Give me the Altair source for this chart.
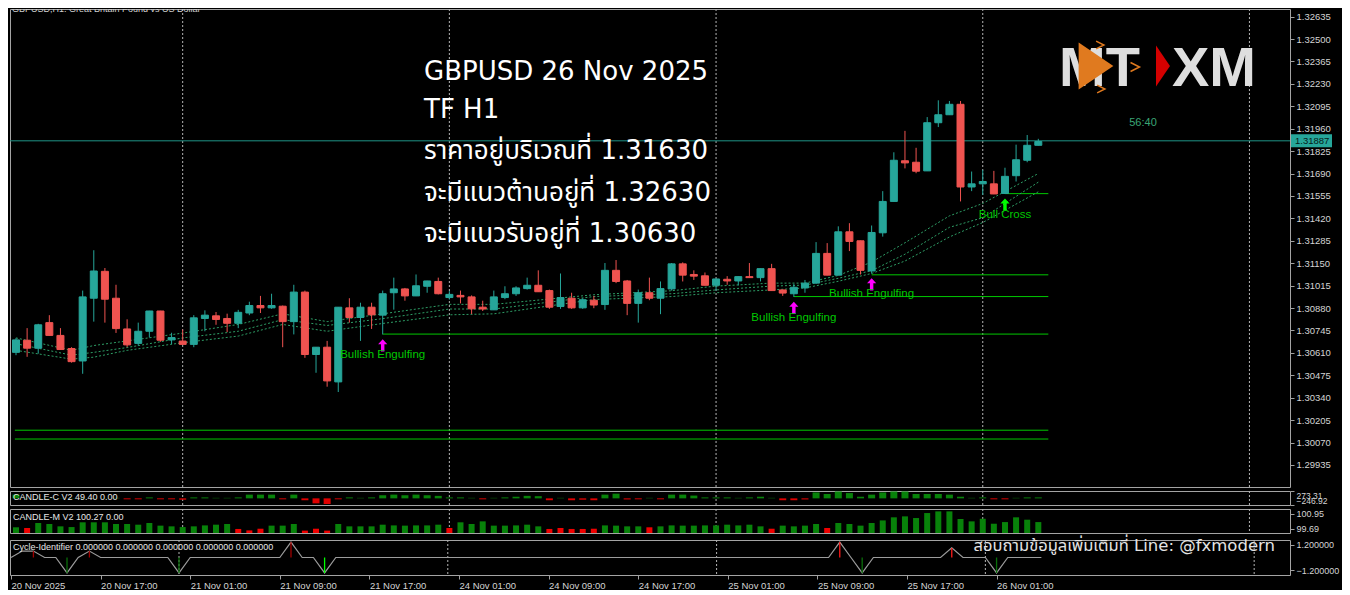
import json
import altair as alt
import pandas as pd

# ---------------- data ----------------
opens = [
    1.30613, 1.30686, 1.30638, 1.30792, 1.30715, 1.30636, 1.30561, 1.30939, 1.31101, 1.30939,
    1.30754, 1.30667, 1.30740, 1.30862, 1.30688, 1.30681, 1.30661, 1.30817, 1.30833, 1.30817,
    1.30788, 1.30850, 1.30895, 1.30881, 1.30891, 1.30798, 1.30976, 1.30600, 1.30644, 1.30435,
    1.30881, 1.30823, 1.30885, 1.30837, 1.30972, 1.30995, 1.30953, 1.31011, 1.31040, 1.30943,
    1.30956, 1.30947, 1.30885, 1.30869, 1.30943, 1.30966, 1.30997, 1.31017, 1.30985, 1.30889,
    1.30939, 1.30881, 1.30927, 1.30901, 1.31107, 1.31043, 1.30908, 1.30972, 1.30939, 1.30995,
    1.31146, 1.31082, 1.31074, 1.31017, 1.31053, 1.31043, 1.31069, 1.31063, 1.31117, 1.30989,
    1.30966, 1.31001, 1.31030, 1.31209, 1.31078, 1.31339, 1.31285, 1.31103, 1.31333, 1.31522,
    1.31767, 1.31758, 1.31706, 1.31996, 1.32044, 1.32107, 1.31609, 1.31628, 1.31628, 1.31570,
    1.31677, 1.31770, 1.31860]
highs = [
    1.30700, 1.30759, 1.30785, 1.30837, 1.30759, 1.30644, 1.30985, 1.31228, 1.31121, 1.31020,
    1.30812, 1.30792, 1.30863, 1.30863, 1.30731, 1.30750, 1.30837, 1.30866, 1.30856, 1.30846,
    1.30869, 1.30918, 1.30953, 1.30966, 1.30895, 1.31020, 1.30985, 1.30645, 1.30682, 1.30886,
    1.30939, 1.30912, 1.30912, 1.30985, 1.31063, 1.31001, 1.31082, 1.31044, 1.31063, 1.30982,
    1.30985, 1.30956, 1.30924, 1.30985, 1.31011, 1.31011, 1.31063, 1.31107, 1.30991, 1.31088,
    1.30972, 1.30939, 1.30953, 1.31151, 1.31169, 1.31049, 1.30991, 1.31063, 1.31040, 1.31151,
    1.31155, 1.31107, 1.31094, 1.31056, 1.31072, 1.31070, 1.31151, 1.31118, 1.31146, 1.30990,
    1.31024, 1.31049, 1.31277, 1.31271, 1.31372, 1.31391, 1.31286, 1.31377, 1.31584, 1.31818,
    1.31947, 1.31845, 1.32030, 1.32131, 1.32127, 1.32127, 1.31702, 1.31712, 1.31706, 1.31725,
    1.31864, 1.31922, 1.31899]
lows = [
    1.30596, 1.30586, 1.30605, 1.30712, 1.30628, 1.30551, 1.30484, 1.30798, 1.30792, 1.30730,
    1.30644, 1.30654, 1.30702, 1.30677, 1.30663, 1.30660, 1.30644, 1.30740, 1.30779, 1.30735,
    1.30759, 1.30837, 1.30850, 1.30875, 1.30644, 1.30721, 1.30580, 1.30490, 1.30406, 1.30374,
    1.30792, 1.30682, 1.30754, 1.30721, 1.30870, 1.30924, 1.30952, 1.30972, 1.30962, 1.30931,
    1.30908, 1.30843, 1.30862, 1.30868, 1.30933, 1.30953, 1.30991, 1.30977, 1.30875, 1.30875,
    1.30875, 1.30875, 1.30879, 1.30869, 1.31030, 1.30837, 1.30792, 1.30927, 1.30843, 1.30985,
    1.31040, 1.31049, 1.31016, 1.30985, 1.31020, 1.31016, 1.31062, 1.31040, 1.30984, 1.30953,
    1.30947, 1.30972, 1.31026, 1.31077, 1.31077, 1.31223, 1.31082, 1.31088, 1.31310, 1.31521,
    1.31721, 1.31692, 1.31705, 1.31970, 1.32043, 1.31522, 1.31584, 1.31561, 1.31566, 1.31569,
    1.31642, 1.31758, 1.31859]
closes = [
    1.30688, 1.30638, 1.30779, 1.30715, 1.30630, 1.30557, 1.30947, 1.31103, 1.30933, 1.30756,
    1.30658, 1.30740, 1.30862, 1.30686, 1.30702, 1.30661, 1.30821, 1.30837, 1.30811, 1.30788,
    1.30854, 1.30895, 1.30881, 1.30895, 1.30798, 1.30976, 1.30600, 1.30644, 1.30441, 1.30885,
    1.30823, 1.30885, 1.30839, 1.30966, 1.30995, 1.30953, 1.31014, 1.31043, 1.30966, 1.30962,
    1.30947, 1.30875, 1.30874, 1.30947, 1.30966, 1.31001, 1.31017, 1.30978, 1.30885, 1.30943,
    1.30881, 1.30930, 1.30898, 1.31107, 1.31040, 1.30908, 1.30972, 1.30939, 1.30997, 1.31146,
    1.31078, 1.31072, 1.31017, 1.31055, 1.31043, 1.31069, 1.31063, 1.31117, 1.30985, 1.30970,
    1.31005, 1.31030, 1.31209, 1.31078, 1.31339, 1.31281, 1.31107, 1.31335, 1.31522, 1.31770,
    1.31754, 1.31704, 1.31996, 1.32044, 1.32107, 1.31609, 1.31628, 1.31642, 1.31567, 1.31673,
    1.31773, 1.31860, 1.31883]

# three dotted moving-average bands, read at sample bars
ma_bars = [0, 5, 7, 10, 15, 20, 24, 28, 33, 39, 43, 52, 59, 63, 68, 71, 74, 77, 80, 84, 87, 92]
ma_fast = [1.30700, 1.30625, 1.30654, 1.30682, 1.30729, 1.30781, 1.30845, 1.30798, 1.30845, 1.30902, 1.30902,
           1.30960, 1.30984, 1.31012, 1.31030, 1.31030, 1.31076, 1.31157, 1.31273, 1.31435, 1.31510, 1.31690]
ma_mid = [1.30665, 1.30596, 1.30613, 1.30642, 1.30700, 1.30740, 1.30810, 1.30775, 1.30816, 1.30874, 1.30874,
          1.30949, 1.30966, 1.30989, 1.31012, 1.31018, 1.31059, 1.31105, 1.31204, 1.31366, 1.31424, 1.31638]
ma_slow = [1.30625, 1.30572, 1.30584, 1.30625, 1.30671, 1.30711, 1.30781, 1.30740, 1.30787, 1.30839, 1.30845,
           1.30931, 1.30949, 1.30972, 1.30989, 1.31001, 1.31041, 1.31088, 1.31163, 1.31308, 1.31395, 1.31580]

current_price = 1.31887
level_start = [33, 70, 77, 89, -0.1, -0.1]
level_end = [92.9, 92.9, 92.9, 92.9, 92.9, 92.9]
level_price = [1.30723, 1.30949, 1.31080, 1.31569, 1.30144, 1.30091]

pattern_bars = [33, 70, 77, 89]
pattern_names = ["Bullish Engulfing", "Bullish Engulfing", "Bullish Engulfing", "Bull Cross"]
pattern_kind = ["engulf", "engulf", "engulf", "cross"]

day_sep_bars = [15, 39, 63, 87, 111]
tick_bars = [0, 8, 16, 24, 32, 40, 48, 56, 64, 72, 80, 88]
tick_labels = ["20 Nov 2025", "20 Nov 17:00", "21 Nov 01:00", "21 Nov 09:00", "21 Nov 17:00",
               "24 Nov 01:00", "24 Nov 09:00", "24 Nov 17:00", "25 Nov 01:00", "25 Nov 09:00",
               "25 Nov 17:00", "26 Nov 01:00"]
price_ticks = [1.29935, 1.30070, 1.30205, 1.30340, 1.30475, 1.30610, 1.30745, 1.30880, 1.31015,
               1.31150, 1.31285, 1.31420, 1.31555, 1.31690, 1.31825, 1.31960, 1.32095, 1.32230,
               1.32365, 1.32500, 1.32635]

candle_c = [139, 10, 10, 10, 10, 10, 10, 10, 10, 20,
            -35, -35, 35, -35, -35, -50, 35, 35, 20, 20,
            35, 139, 139, 139, -35, 139, -70, -185, -210, -35,
            35, 20, 35, 116, 139, 116, 139, 116, 93, 35,
            35, 20, -35, 20, 35, 60, 93, 81, -70, 20,
            -70, -50, -70, 139, 174, -40, -35, 20, -35, 139,
            139, 104, 35, 35, 35, 20, 35, 60, 20, -70,
            -70, -40, 220, 162, 255, 197, 60, 139, 220, 255,
            255, 162, 162, 162, 139, 60, 20, 35, -35, -35,
            20, 35, 35]
candle_m = [99.83, 99.77, 100.19, 100.11, 99.91, 99.85, 100.25, 100.25, 100.25, 100.11,
            100.11, 100.05, 100.19, 99.97, 99.91, 99.85, 99.91, 99.99, 100.05, 100.11,
            99.69, 99.57, 99.71, 99.97, 99.97, 100.11, 99.55, 99.71, 99.55, 100.11,
            99.91, 99.91, 99.91, 100.05, 99.99, 99.97, 99.99, 99.99, 100.05, 99.77,
            100.25, 100.11, 100.33, 99.97, 99.97, 99.99, 100.05, 99.91, 99.69, 99.77,
            99.69, 99.69, 99.71, 99.99, 99.97, 99.91, 99.91, 99.83, 99.91, 99.99,
            99.97, 99.97, 99.99, 99.99, 100.05, 99.99, 100.05, 99.91, 99.71, 99.97,
            99.91, 99.97, 100.11, 99.77, 100.19, 100.11, 99.97, 100.19, 100.41, 100.67,
            100.75, 100.61, 101.03, 101.17, 101.17, 100.53, 100.33, 100.55, 100.13, 100.27,
            100.67, 100.47, 100.27]
candle_m_red_bars = [1, 20, 21, 22, 26, 27, 28, 39, 48, 49, 50, 51, 52, 57, 68, 73]

cycle_line = [0, 0.6, 0.6, 0, 0, -1.45, 0, 0.6, 0, 0,
              0, 0, 0, 0, 0, -1.45, 0, 0, 0, 0,
              0, 0, 0, 0, 0, 1.45, 0, 0, -1.45, 0,
              0, 0, 0, 0, 0, 0, 0, 0, 0, 0,
              0, 0, 0, 0, 0, 0, 0, 0, 0, 0,
              0, 0, 0, 0, 0, 0, 0, 0, 0, 0,
              0, 0, 0, 0, 0, 0, 0, 0, 0, 0,
              0, 0, 0, 0, 1.45, 0, -1.45, 0, 0, 0,
              0, 0, 0, 0, 0.9, 0, 0, 0, -1.45, 0,
              0, 0, 0]
sig_bars = [2, 5, 7, 15, 25, 28, 74, 76, 84, 88]
sig_vals = [0.6, -1.45, 0.6, -1.45, 1.45, -1.45, 1.45, -1.45, 0.9, -1.45]
sig_kind = ["peak", "dip", "peak", "dip", "peak", "dip_strong", "peak_strong", "dip", "peak_strong", "dip"]

info_lines = ["GBPUSD 26 Nov 2025", "TF H1", "ราคาอยู่บริเวณที่ 1.31630",
              "จะมีแนวต้านอยู่ที่ 1.32630", "จะมีแนวรับอยู่ที่ 1.30630"]
watermark = "สอบถามข้อมูลเพิ่มเติมที่ Line: @fxmodern"
chart_title = "GBPUSD,H1:  Great Britain Pound vs US Dollar"

# ---------------- layout / style ----------------
W = 1280
H_MAIN, H_C, H_M, H_CYC = 478, 14, 24, 35
FONT = "Liberation Sans, Arial, sans-serif"
BIG_FONT = "DejaVu Sans, Noto Sans Thai, Noto Sans, sans-serif"
AX = dict(orient="right", title=None, grid=False, domain=False, labelColor="#d4d4d4",
          labelFont=FONT, labelFontSize=9.5, tickColor="#a0a0a0", tickSize=4, labelPadding=2)

xs = alt.Scale(domain=[-0.09, 114.2], nice=False, zero=False)
ys = alt.Scale(domain=[1.29802, 1.32681], nice=False, zero=False)
price_axis = alt.Axis(values=price_ticks, format=".5f", labelOverlap=False, **AX)
cscale = alt.Scale(domain=["up", "down"], range=["#26a69a", "#ef5350"])

candles = pd.DataFrame({"bar": list(range(len(opens))), "open": opens, "high": highs,
                        "low": lows, "close": closes})
candles["dir"] = ["up" if c >= o else "down" for o, c in zip(opens, closes)]

ma = pd.concat([pd.DataFrame({"bar": ma_bars, "v": s, "s": n})
                for s, n in [(ma_fast, "fast"), (ma_mid, "mid"), (ma_slow, "slow")]])
levels = pd.DataFrame({"a": level_start, "b": level_end, "p": level_price})
seps = pd.DataFrame({"bar": day_sep_bars})
patterns = pd.DataFrame({"bar": pattern_bars, "name": pattern_names, "kind": pattern_kind,
                         "low": [lows[b] for b in pattern_bars]})


def X(axis=None):
    return alt.X("bar:Q", scale=xs, axis=axis)


def sep_layer(axis=None):
    return alt.Chart(seps).mark_rule(color="#b4b4b4", strokeDash=[2, 2], strokeWidth=1).encode(x=X(axis))


def Yp(field):
    return alt.Y(field, scale=ys, axis=price_axis)


def text_layer(txt, x, y, **kw):
    return alt.Chart(pd.DataFrame({"t": [txt]})).mark_text(**kw).encode(
        text="t:N", x=alt.value(x), y=alt.value(y))


ARROW = "M0,-1 L0.75,-0.2 L0.28,-0.2 L0.28,1 L-0.28,1 L-0.28,-0.2 L-0.75,-0.2 Z"

main_layers = [
    sep_layer(),
    alt.Chart(levels).mark_rule(color="#00c800", strokeWidth=1, clip=True).encode(
        x=alt.X("a:Q", scale=xs, axis=None), x2="b:Q", y=Yp("p:Q")),
    alt.Chart(ma).mark_line(color="#2e9e66", strokeDash=[2, 2], strokeWidth=1, clip=True).encode(
        x=X(), y=Yp("v:Q"), detail="s:N"),
    alt.Chart(pd.DataFrame({"p": [current_price]})).mark_rule(color="#1f9487", strokeWidth=1).encode(
        y=Yp("p:Q")),
    alt.Chart(candles).mark_rule(strokeWidth=1, clip=True).encode(
        x=X(), y=Yp("low:Q"), y2="high:Q", color=alt.Color("dir:N", scale=cscale, legend=None)),
    alt.Chart(candles).mark_bar(size=7, strokeWidth=1, clip=True).encode(
        x=X(), y=Yp("open:Q"), y2="close:Q",
        color=alt.Color("dir:N", scale=cscale, legend=None),
        stroke=alt.Stroke("dir:N", scale=cscale, legend=None)),
    alt.Chart(patterns).mark_point(shape=ARROW, filled=True, size=150, opacity=1, yOffset=11).encode(
        x=X(), y=Yp("low:Q"),
        fill=alt.Fill("kind:N", scale=alt.Scale(domain=["engulf", "cross"], range=["#ff00ff", "#00ff00"]),
                      legend=None)),
    alt.Chart(patterns).mark_text(color="#00c800", font=FONT, fontSize=11.5, dy=21, baseline="middle").encode(
        x=X(), y=Yp("low:Q"), text="name:N"),
    # price tag on the axis
    alt.Chart(pd.DataFrame({"p": [current_price]})).mark_rect(
        color="#26a69a", yOffset=-6.5, y2Offset=6.5).encode(
        x=alt.value(W + 1), x2=alt.value(W + 42), y=Yp("p:Q"), y2="p:Q"),
    alt.Chart(pd.DataFrame({"p": [current_price]})).mark_text(
        color="#061a18", font=FONT, fontSize=9.5, align="left", baseline="middle").encode(
        x=alt.value(W + 5), y=Yp("p:Q"), text=alt.Text("p:Q", format=".5f")),
    # chart caption (cut at the top edge)
    text_layer(chart_title, 2, 0, color="#d0d0d0", font=FONT, fontSize=9, align="left",
               baseline="middle", clip=True),
    # countdown
    text_layer("56:40", 1133, 117, color="#3aa575", font=FONT, fontSize=11, align="center",
               baseline="alphabetic"),
    # logo
    text_layer("MT", 1049, 77, color="#dedede", font=FONT, fontSize=56, fontWeight="bold", align="left",
               baseline="alphabetic"),
    text_layer("XM", 1162, 77, color="#dedede", font=FONT, fontSize=56, fontWeight="bold", align="left",
               baseline="alphabetic"),
]
# orange / red logo triangles
for shape, cx, cy, size, col, filled in [
        ("M-0.74,-1 L0.74,0 L-0.74,1 Z", 1086, 57, 2200, "#e07a1f", True),
        ("M-0.34,-1 L0.34,0 L-0.34,1 Z", 1153, 57, 1681, "#d40000", True),
        ("M-1,-1 L1,0 L-1,1", 1090, 36, 60, "#e07a1f", False),
        ("M-1,-1 L1,0 L-1,1", 1125, 58, 80, "#e07a1f", False),
        ("M-1,-1 L1,0 L-1,1", 1091, 80, 60, "#e07a1f", False)]:
    main_layers.append(
        alt.Chart(pd.DataFrame({"k": [0]})).mark_point(
            shape=shape, size=size, filled=filled, opacity=1, strokeWidth=1.5,
            **({"fill": col} if filled else {"stroke": col})).encode(x=alt.value(cx), y=alt.value(cy)))

for txt, yb in zip(info_lines, [71, 109, 150, 192, 233]):
    main_layers.append(text_layer(txt, 414, yb, color="#ffffff", font=BIG_FONT, fontSize=26,
                                  align="left", baseline="alphabetic"))

main = alt.layer(*main_layers).properties(width=W, height=H_MAIN)

# ---- CANDLE-C ----
cc = pd.DataFrame({"bar": list(range(len(candle_c))), "v": candle_c})
cc["c"] = ["neg" if v < 0 else ("weak" if v <= 25 else "pos") for v in candle_c]
cc_axis = alt.Axis(values=[273.31, -246.92], format=".2f", labelOverlap=False, labelFlush=True,
                   **{**AX, "labelFontSize": 8.5})
panel_c = alt.layer(
    sep_layer(),
    alt.Chart(cc).mark_bar(size=7, clip=True).encode(
        x=X(), y=alt.Y("v:Q", scale=alt.Scale(domain=[-246.92, 273.31], nice=False, zero=False), axis=cc_axis),
        y2=alt.datum(0),
        color=alt.Color("c:N", scale=alt.Scale(domain=["pos", "weak", "neg"],
                                               range=["#08820a", "#065a08", "#e00000"]), legend=None)),
    text_layer("CANDLE-C V2 49.40 0.00", 3, 2, color="#e6e6e6", font=FONT, fontSize=9,
               align="left", baseline="top"),
).properties(width=W, height=H_C)

# ---- CANDLE-M ----
cm = pd.DataFrame({"bar": list(range(len(candle_m))), "v": candle_m})
cm["c"] = ["red" if b in candle_m_red_bars else "green" for b in cm["bar"]]
cm_axis = alt.Axis(values=[100.95, 99.69], format=".2f", labelOverlap=False, **{**AX, "labelFontSize": 9})
panel_m = alt.layer(
    sep_layer(),
    alt.Chart(cm).mark_bar(size=6, clip=True).encode(
        x=X(), y=alt.Y("v:Q", scale=alt.Scale(domain=[99.35, 101.37], nice=False, zero=False), axis=cm_axis),
        y2=alt.datum(99.35),
        color=alt.Color("c:N", scale=alt.Scale(domain=["green", "red"], range=["#08820a", "#f00000"]),
                        legend=None)),
    text_layer("CANDLE-M V2 100.27 0.00", 3, 4, color="#e6e6e6", font=FONT, fontSize=9,
               align="left", baseline="top"),
).properties(width=W, height=H_M)

# ---- Cycle-Identifier ----
x_axis = alt.Axis(values=tick_bars, labelExpr=json.dumps(tick_labels) + "[round(datum.value / 8)]",
                  labelAlign="left", labelColor="#d4d4d4", labelFont=FONT, labelFontSize=9.5,
                  tickColor="#a0a0a0", tickSize=4, domain=False, grid=False, title=None,
                  labelPadding=1, labelOverlap=False, labelFlush=False, orient="bottom")
cy_scale = alt.Scale(domain=[-1.64, 1.64], nice=False, zero=False)
cy_axis = alt.Axis(values=[1.2, -1.2], format=".6f", labelOverlap=False, **{**AX, "labelFontSize": 9})
cyc = pd.DataFrame({"bar": list(range(len(cycle_line))), "v": cycle_line})
sig = pd.DataFrame({"bar": sig_bars, "v": sig_vals, "k": sig_kind})
kinds = ["peak", "dip", "peak_strong", "dip_strong"]
panel_cyc = alt.layer(
    sep_layer(x_axis),
    alt.Chart(cyc).mark_line(color="#9c9c9c", strokeWidth=1.2).encode(
        x=X(x_axis), y=alt.Y("v:Q", scale=cy_scale, axis=cy_axis)),
    alt.Chart(sig).mark_rule().encode(
        x=X(x_axis), y=alt.Y("v:Q", scale=cy_scale, axis=cy_axis), y2=alt.datum(0),
        color=alt.Color("k:N", scale=alt.Scale(domain=kinds, range=["#a00000", "#0a6e0a", "#ff1a1a", "#00ff00"]),
                        legend=None),
        strokeWidth=alt.StrokeWidth("k:N", scale=alt.Scale(domain=kinds, range=[1.3, 1.3, 4.5, 4.5]),
                                    legend=None)),
    text_layer("Cycle-Identifier 0.000000 0.000000 0.000000 0.000000 0.000000", 3, 3, color="#e6e6e6",
               font=FONT, fontSize=9, align="left", baseline="top"),
    text_layer(watermark, 1265, 11, color="#e4e4e4", font=BIG_FONT, fontSize=16.5, align="right",
               baseline="alphabetic"),
).properties(width=W, height=H_CYC)

chart = alt.vconcat(main, panel_c, panel_m, panel_cyc, spacing=2,
                    padding={"left": 0, "top": 0, "right": 2, "bottom": 0}).resolve_scale(
    x="independent", y="independent", color="independent", stroke="independent",
    fill="independent", strokeWidth="independent").configure(
    background="#000000").configure_view(stroke="#a4a4a4", strokeWidth=1)

chart.save("out.html", embed_options={"renderer": "svg", "actions": False})
